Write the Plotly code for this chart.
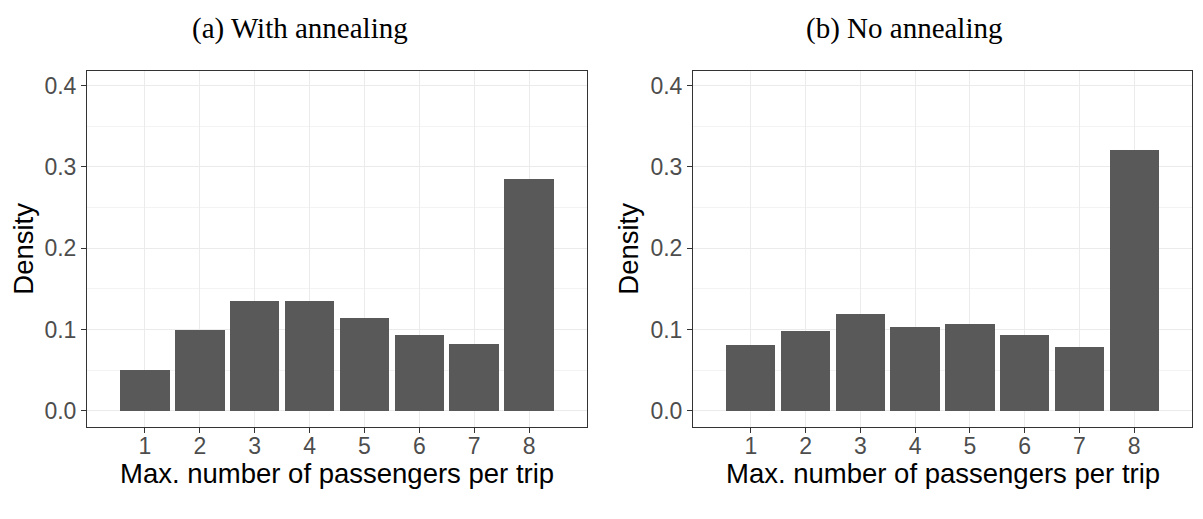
import plotly.graph_objects as go

# ---- data ----
categories = [1, 2, 3, 4, 5, 6, 7, 8]
with_annealing = [0.051, 0.100, 0.136, 0.135, 0.114, 0.093, 0.082, 0.285]
no_annealing = [0.081, 0.099, 0.120, 0.103, 0.107, 0.093, 0.079, 0.321]
panel_titles = ["(a) With annealing", "(b) No annealing"]
x_title = "Max. number of passengers per trip"
y_title = "Density"
y_tick_vals = [0.0, 0.1, 0.2, 0.3, 0.4]
y_tick_text = ["0.0", "0.1", "0.2", "0.3", "0.4"]

W, H = 1203, 519
BAR = "#595959"
GRID = "#ebebeb"
MINOR = "#f3f3f3"
FRAME = "#333333"
TICKTXT = "#4d4d4d"
SANS = "Liberation Sans, Arial, sans-serif"
SERIF = "Liberation Serif, Times New Roman, serif"

def px_x(p):
    return p / W

def px_y(p):
    return 1 - p / H

fig = go.Figure()
fig.add_trace(go.Bar(x=categories, y=with_annealing, width=0.9, marker=dict(color=BAR, line=dict(width=0)),
                     xaxis="x", yaxis="y", showlegend=False))
fig.add_trace(go.Bar(x=categories, y=no_annealing, width=0.9, marker=dict(color=BAR, line=dict(width=0)),
                     xaxis="x2", yaxis="y2", showlegend=False))

panels = [(87, 587), (693, 1192)]
top, bottom = 70.7, 426.7

xcommon = dict(range=[-0.056, 9.056], tickmode="array", tickvals=categories,
               ticktext=[str(c) for c in categories],
               showgrid=True, gridcolor=GRID, gridwidth=1.2, zeroline=False,
               showline=True, mirror=True, linecolor=FRAME, linewidth=1,
               ticks="outside", ticklen=5, tickcolor=FRAME, tickwidth=1,
               ticklabelstandoff=-6,
               tickfont=dict(family=SANS, size=23, color=TICKTXT))
ycommon = dict(range=[-0.0197, 0.4185], tickmode="array", tickvals=y_tick_vals, ticktext=y_tick_text,
               showgrid=True, gridcolor=GRID, gridwidth=1.2, zeroline=False,
               showline=True, mirror=True, linecolor=FRAME, linewidth=1,
               ticks="outside", ticklen=5, tickcolor=FRAME, tickwidth=1,
               tickfont=dict(family=SANS, size=23, color=TICKTXT),
               minor=dict(tickmode="array", tickvals=[0.05, 0.15, 0.25, 0.35], showgrid=True,
                          gridcolor=MINOR, gridwidth=1, ticks=""))

ydom = [px_y(bottom), px_y(top)]
fig.update_layout(
    width=W, height=H, margin=dict(l=0, r=0, t=0, b=0),
    paper_bgcolor="white", plot_bgcolor="white", bargap=0,
    xaxis=dict(domain=[px_x(panels[0][0]), px_x(panels[0][1])], anchor="y", **xcommon),
    yaxis=dict(domain=ydom, anchor="x", **ycommon),
    xaxis2=dict(domain=[px_x(panels[1][0]), px_x(panels[1][1])], anchor="y2", **xcommon),
    yaxis2=dict(domain=ydom, anchor="x2", **ycommon),
)

annotations = []
title_centers = [300, 904]
ylabel_x = [24, 629]
for i, (l, r) in enumerate(panels):
    annotations.append(dict(text=panel_titles[i], x=px_x(title_centers[i]), y=px_y(28),
                            xref="paper", yref="paper", xanchor="center", yanchor="middle",
                            showarrow=False, font=dict(family=SERIF, size=29, color="black")))
    annotations.append(dict(text=x_title, x=px_x((l + r) / 2), y=px_y(473),
                            xref="paper", yref="paper", xanchor="center", yanchor="middle",
                            showarrow=False, font=dict(family=SANS, size=27.5, color="black")))
    annotations.append(dict(text=y_title, x=px_x(ylabel_x[i]), y=px_y((top + bottom) / 2),
                            xref="paper", yref="paper", xanchor="center", yanchor="middle",
                            textangle=-90, showarrow=False,
                            font=dict(family=SANS, size=27.5, color="black")))
fig.update_layout(annotations=annotations)

fig.write_html("out.html")
